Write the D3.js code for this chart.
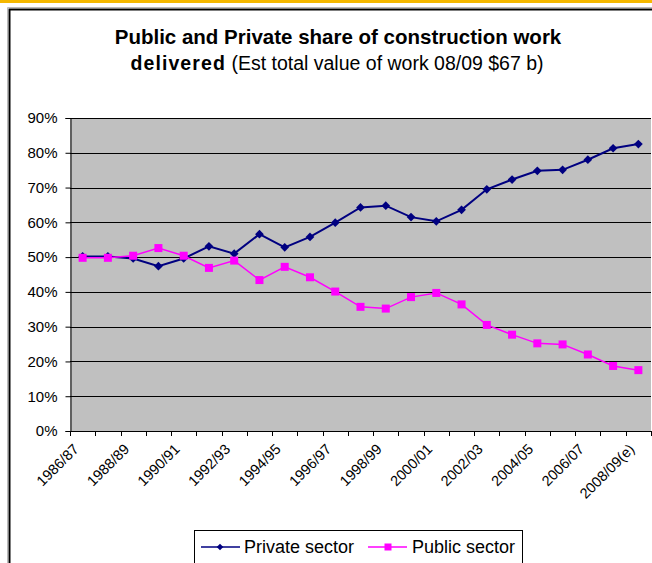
<!DOCTYPE html>
<html>
<head>
<meta charset="utf-8">
<script src="https://cdn.jsdelivr.net/npm/d3@7"></script>
<style>
  html, body { margin: 0; padding: 0; background: #fff; }
  svg { display: block; font-family: Arial, "Liberation Sans", sans-serif; }
</style>
</head>
<body>
<svg id="chart" width="652" height="563"></svg>
<script>
// Financial years, 1986/87 to 2008/09 (estimate)
const years = ["1986/87","1987/88","1988/89","1989/90","1990/91","1991/92","1992/93","1993/94",
  "1994/95","1995/96","1996/97","1997/98","1998/99","1999/00","2000/01","2001/02","2002/03",
  "2003/04","2004/05","2005/06","2006/07","2007/08","2008/09(e)"];
// Labels shown on the category axis (every second year)
const yearLabels = ["1986/87","1988/89","1990/91","1992/93","1994/95","1996/97","1998/99",
  "2000/01","2002/03","2004/05","2006/07","2008/09(e)"];
// Share of work delivered, per cent
const privateShare = [50.2,50.2,49.6,47.4,49.6,53.1,51.0,56.6,52.8,55.8,59.9,64.3,64.8,61.5,60.3,
  63.6,69.5,72.3,74.8,75.1,78.0,81.3,82.5];
const publicShare = [49.8,49.8,50.4,52.6,50.4,46.9,49.0,43.4,47.2,44.2,40.1,35.7,35.2,38.5,39.7,
  36.4,30.5,27.7,25.2,24.9,22.0,18.7,17.5];
const yTicks = [0,10,20,30,40,50,60,70,80,90];
const seriesNames = ["Private sector","Public sector"];

const svg = d3.select("#chart");

// top band and chart frame
svg.append("rect").attr("x",0).attr("y",0).attr("width",652).attr("height",3).attr("fill","#F5B800");
svg.append("line").attr("x1",7.5).attr("x2",652).attr("y1",7.5).attr("y2",7.5).attr("stroke","#bbb");
svg.append("line").attr("x1",7.5).attr("x2",7.5).attr("y1",7.5).attr("y2",563).attr("stroke","#bbb");
svg.append("rect").attr("x",9.5).attr("y",9.5).attr("width",700).attr("height",600)
  .attr("fill","none").attr("stroke","#000").attr("stroke-width",2);

// title
const title = svg.append("g").attr("text-anchor","middle").attr("fill","#000");
title.append("text").attr("x",338).attr("y",44).attr("font-size",20.5).attr("font-weight","bold")
  .text("Public and Private share of construction work");
const t2 = title.append("text").attr("x",337).attr("y",70).attr("font-size",19.5);
t2.append("tspan").attr("font-weight","bold").attr("letter-spacing",1.1).text("delivered");
t2.append("tspan").text(" (Est total value of work 08/09 $67 b)");

// plot area
const plotL = 70, plotR = 651, plotT = 118, plotB = 431;
const x = d3.scaleBand().domain(years).range([plotL, plotR]).paddingInner(0).paddingOuter(0);
const y = d3.scaleLinear().domain([0, 90]).range([plotB, plotT]);

svg.append("rect").attr("x",plotL).attr("y",plotT).attr("width",plotR-plotL).attr("height",plotB-plotT)
  .attr("fill","#C0C0C0");

// gridlines
svg.append("g").selectAll("line").data(yTicks.slice(1)).join("line")
  .attr("x1",plotL).attr("x2",plotR).attr("y1",d=>Math.round(y(d))+0.5).attr("y2",d=>Math.round(y(d))+0.5)
  .attr("stroke","#000").attr("stroke-width",1);

// value axis
const yAxis = d3.axisLeft(y).tickValues(yTicks).tickFormat(d=>d+"%").tickSize(5).tickPadding(8);
const ya = svg.append("g").attr("transform",`translate(${plotL+0.5},0)`).call(yAxis);
ya.select(".domain").attr("stroke","#000");
ya.selectAll(".tick line").attr("stroke","#000");
ya.selectAll(".tick text").attr("font-size",15).attr("fill","#000")
  .attr("font-family","Arial, 'Liberation Sans', sans-serif");

// category axis: ticks between categories
const bounds = years.map(d=>x(d)).concat([plotR]);
const xa = svg.append("g");
xa.append("line").attr("x1",plotL).attr("x2",plotR).attr("y1",plotB+0.5).attr("y2",plotB+0.5).attr("stroke","#000");
xa.selectAll("line.tk").data(bounds).join("line").attr("class","tk")
  .attr("x1",d=>Math.round(d)+0.5).attr("x2",d=>Math.round(d)+0.5)
  .attr("y1",plotB).attr("y2",plotB+5).attr("stroke","#000");
xa.selectAll("text").data(yearLabels).join("text")
  .attr("transform",d=>`translate(${x(d)+x.bandwidth()/2-3},${plotB+19}) rotate(-45)`)
  .attr("text-anchor","end").attr("font-size",14.5).attr("fill","#000").text(d=>d);

// series
const cx = d=>x(d)+x.bandwidth()/2;
const line = d3.line().x((v,i)=>cx(years[i])).y(v=>y(v));

svg.append("path").datum(privateShare).attr("d",line).attr("fill","none")
  .attr("stroke","#000080").attr("stroke-width",2);
svg.append("path").datum(publicShare).attr("d",line).attr("fill","none")
  .attr("stroke","#FF00FF").attr("stroke-width",1.5);

const diamond = d3.symbol().type(d3.symbolSquare).size(38);
svg.append("g").selectAll("path").data(privateShare).join("path")
  .attr("d",diamond())
  .attr("transform",(v,i)=>`translate(${cx(years[i])},${y(v)}) rotate(45)`)
  .attr("fill","#000080");
svg.append("g").selectAll("rect").data(publicShare).join("rect")
  .attr("x",(v,i)=>cx(years[i])-4).attr("y",v=>y(v)-4).attr("width",8).attr("height",8)
  .attr("fill","#FF00FF");

// legend
const lg = svg.append("g");
lg.append("rect").attr("x",194.5).attr("y",530.5).attr("width",328).attr("height",60)
  .attr("fill","#fff").attr("stroke","#000");
const ly = 547;
lg.append("line").attr("x1",201).attr("x2",240).attr("y1",ly).attr("y2",ly).attr("stroke","#000080").attr("stroke-width",1.5);
lg.append("path").attr("d",d3.symbol().type(d3.symbolSquare).size(22)())
  .attr("transform",`translate(220,${ly}) rotate(45)`).attr("fill","#000080");
lg.append("text").attr("x",244).attr("y",553).attr("font-size",18).attr("fill","#000").text(seriesNames[0]);
lg.append("line").attr("x1",368).attr("x2",407).attr("y1",ly).attr("y2",ly).attr("stroke","#FF00FF").attr("stroke-width",1.5);
lg.append("rect").attr("x",384.5).attr("y",ly-3.5).attr("width",7).attr("height",7).attr("fill","#FF00FF");
lg.append("text").attr("x",412).attr("y",553).attr("font-size",18).attr("fill","#000").text(seriesNames[1]);
</script>
</body>
</html>
